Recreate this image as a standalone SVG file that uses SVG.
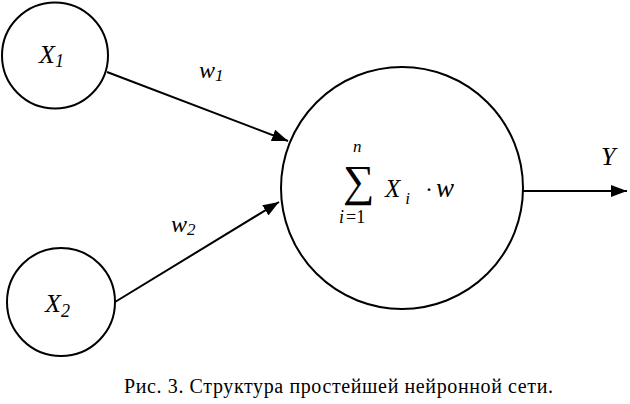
<svg xmlns="http://www.w3.org/2000/svg" width="630" height="404" viewBox="0 0 630 404">
<style>
.n{fill:#fff;stroke:#000;stroke-width:2}
.c{stroke:#000;stroke-width:2;fill:none}
.s{font-family:"Liberation Serif","Times New Roman","DejaVu Serif",serif;fill:#000}
.t{font-family:"Liberation Serif","Times New Roman","DejaVu Serif",serif;font-style:italic;fill:#000}
.cap{font-family:"Liberation Serif","Times New Roman","DejaVu Serif",serif;font-size:20px;fill:#000}
</style>
<defs>
<marker id="b" markerWidth="16" markerHeight="12" refX="16" refY="6" orient="auto" markerUnits="userSpaceOnUse" viewBox="0 0 16 12">
<path d="M0,0 L16,6 L0,12 Z" fill="#000"/>
</marker>
</defs>
<g id="connectors">
<line class="c" x1="107" y1="72" x2="288" y2="141" marker-end="url(#b)"/>
<line class="c" x1="115" y1="302" x2="279" y2="202" marker-end="url(#b)"/>
<line class="c" x1="523" y1="191" x2="627" y2="191" marker-end="url(#b)"/>
</g>
<g id="x1">
<circle class="n" cx="55" cy="55.5" r="53"/>
<text class="t" x="39" y="63" font-size="26">X<tspan font-size="18" dy="4">1</tspan></text>
</g>
<g id="x2">
<circle class="n" cx="61" cy="302" r="54"/>
<text class="t" x="45" y="312" font-size="26">X<tspan font-size="18" dy="5">2</tspan></text>
</g>
<g id="neuron">
<circle class="n" cx="402" cy="188" r="121"/>
<text class="s" x="343" y="196" font-size="44">∑</text>
<text class="t" x="353" y="152" font-size="17">n</text>
<text class="t" x="339" y="223" font-size="18">i<tspan class="s" font-style="normal" dx="2">=1</tspan></text>
<text class="t" x="385" y="197" font-size="25">X<tspan font-size="17" dx="5" dy="7">i</tspan></text>
<text class="s" x="425" y="197" font-size="24">·</text>
<text class="t" x="436" y="197" font-size="27">w</text>
</g>
<g id="labels">
<text class="t" x="199" y="78" font-size="24">w<tspan font-size="17" dy="3">1</tspan></text>
<text class="t" x="171" y="232" font-size="24">w<tspan font-size="17" dy="3">2</tspan></text>
<text class="t" x="601" y="165" font-size="26">Y</text>
</g>
<text class="cap" x="124" y="393" textLength="429" lengthAdjust="spacing">Рис. 3. Структура простейшей нейронной сети.</text>
</svg>
